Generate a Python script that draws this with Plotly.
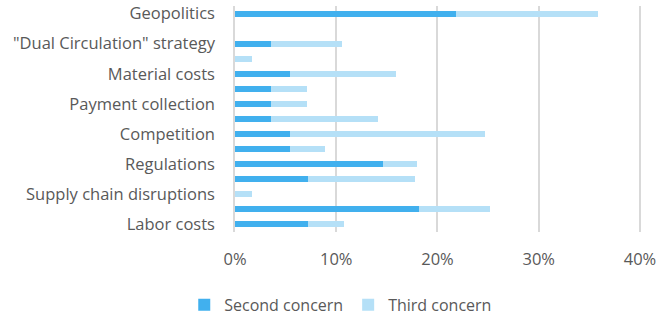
import plotly.graph_objects as go

# bottom to top
categories = ["Labor costs", " ", "Supply chain disruptions", "  ", "Regulations", "   ",
              "Competition", "    ", "Payment collection", "     ", "Material costs", "      ",
              "\"Dual Circulation\" strategy", "       ", "Geopolitics"]
second_concern = [0.072, 0.182, 0.0, 0.072, 0.146, 0.054, 0.054, 0.036, 0.036, 0.036, 0.054, 0.0, 0.036, 0.0, 0.218]
third_concern = [0.036, 0.070, 0.017, 0.106, 0.034, 0.035, 0.193, 0.105, 0.035, 0.035, 0.105, 0.017, 0.070, 0.0, 0.141]
x_ticks = [0, 0.1, 0.2, 0.3, 0.4]

FONT = "Open Sans"
fig = go.Figure()
fig.add_trace(go.Bar(y=categories, x=second_concern, orientation="h", name="Second concern",
                     marker=dict(color="#41B0EE", line=dict(width=0))))
fig.add_trace(go.Bar(y=categories, x=third_concern, orientation="h", name="Third concern",
                     marker=dict(color="#B5E0F7", line=dict(width=0))))

fig.update_layout(
    width=661, height=320,
    margin=dict(l=235, r=20, t=6, b=88, autoexpand=False),
    barmode="stack", bargap=0.6,
    plot_bgcolor="white", paper_bgcolor="white",
    font=dict(family=FONT, size=16.5, color="#595959"),
    xaxis=dict(range=[0, 0.401], tickvals=x_ticks, tickformat=".0%", showgrid=True,
               gridcolor="#D9D9D9", gridwidth=1.5, zeroline=False, showline=False,
               ticklabelstandoff=15, fixedrange=True),
    yaxis=dict(type="category", categoryorder="array", categoryarray=categories,
               showgrid=False, zeroline=False, showline=True, linecolor="#D9D9D9", linewidth=1.5,
               ticklabelstandoff=15, fixedrange=True),
    legend=dict(orientation="h", x=-0.125, xanchor="left", yref="container", y=0.047, yanchor="middle",
                font=dict(size=16, color="#595959"), itemwidth=30, traceorder="normal"),
    showlegend=True,
)
fig.write_html("out.html")
